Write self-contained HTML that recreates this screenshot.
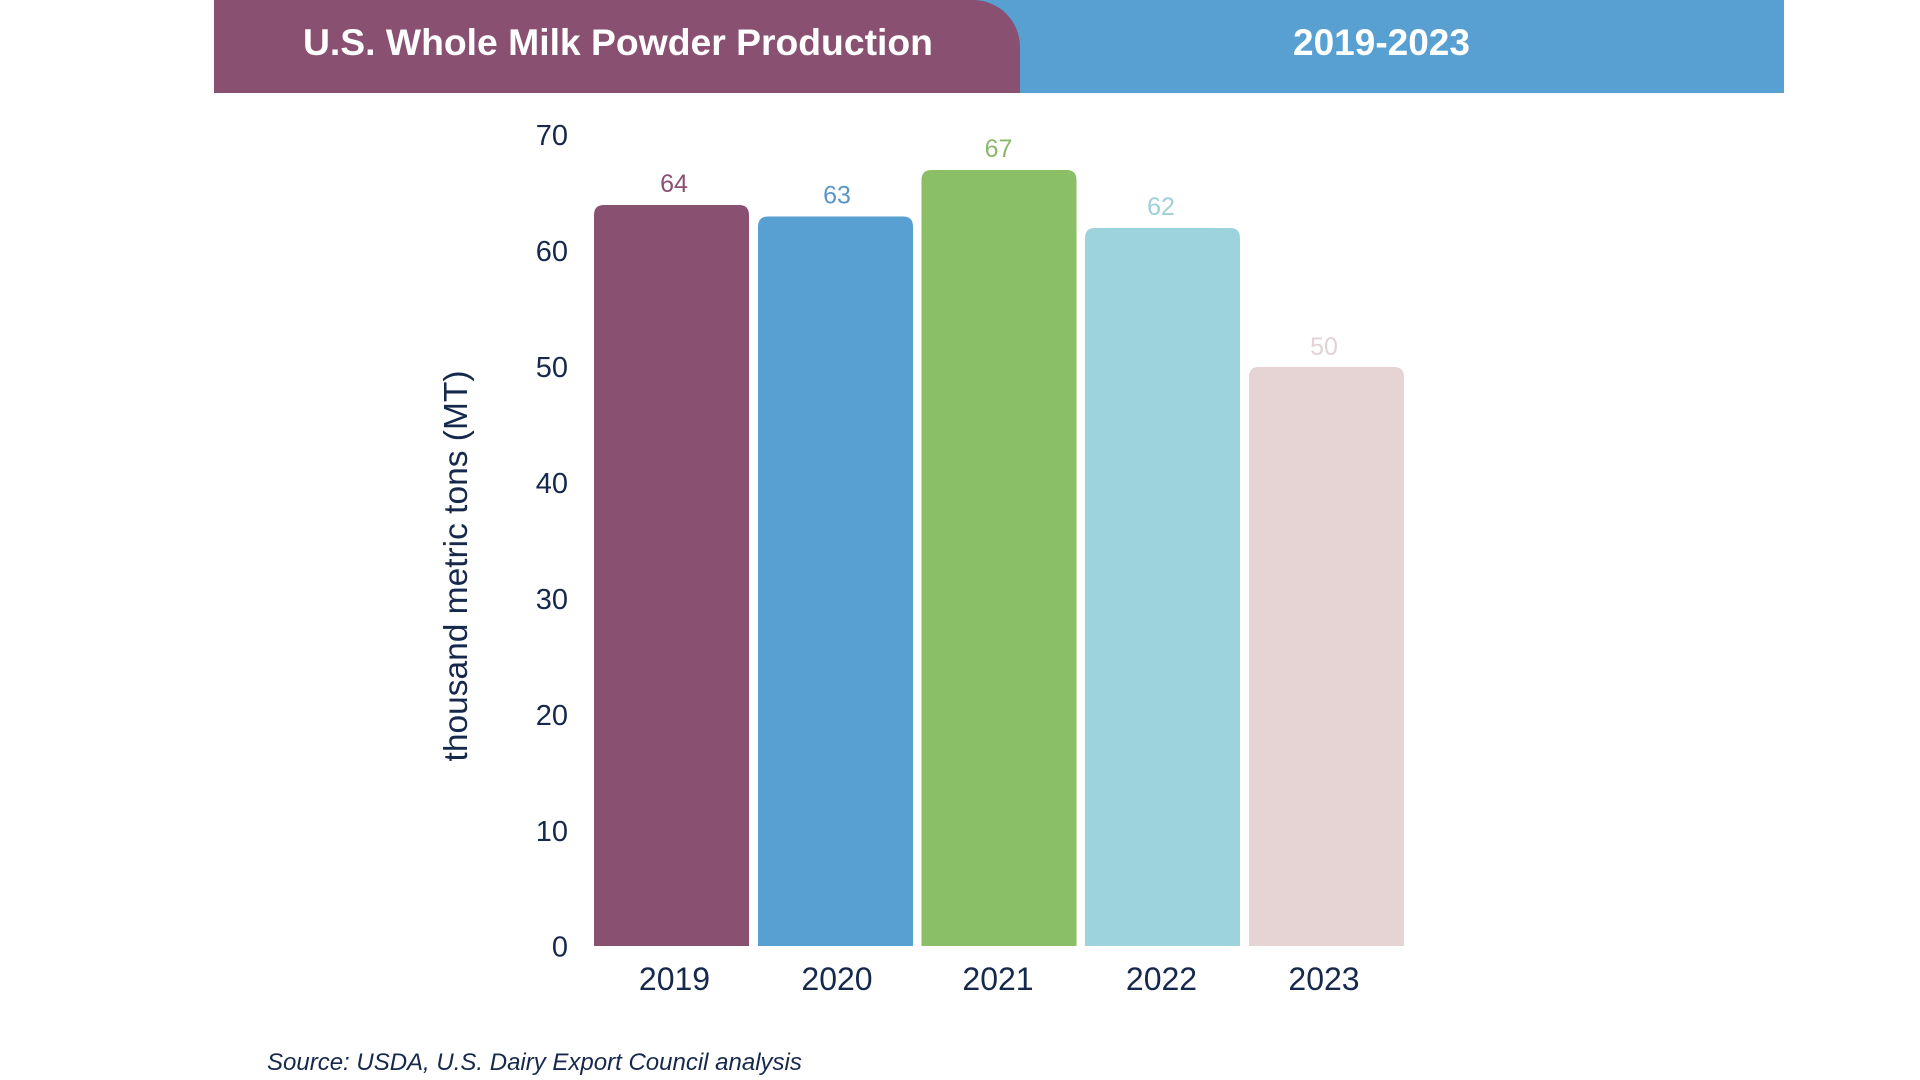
<!DOCTYPE html>
<html>
<head>
<meta charset="utf-8">
<style>
  html, body { margin: 0; padding: 0; background: #ffffff; }
  body { width: 1920px; height: 1080px; overflow: hidden; }
  svg { display: block; }
  text { font-family: "Liberation Sans", Arial, sans-serif; }
</style>
</head>
<body>
<svg width="1920" height="1080" viewBox="0 0 1920 1080" xmlns="http://www.w3.org/2000/svg">
  <rect x="0" y="0" width="1920" height="1080" fill="#ffffff"/>

  <!-- Header -->
  <rect x="960" y="0" width="824" height="93" fill="#589fd2"/>
  <path d="M214,0 H973 A47,47 0 0 1 1020,47 V93 H214 Z" fill="#8a5072"/>
  <text x="303" y="55" font-size="37.3" font-weight="bold" fill="#ffffff">U.S. Whole Milk Powder Production</text>
  <text x="1381.5" y="55" font-size="37" font-weight="bold" fill="#ffffff" text-anchor="middle">2019-2023</text>

  <!-- Y tick labels -->
  <g font-size="29" fill="#16294d" text-anchor="end">
    <text x="568" y="145">70</text>
    <text x="568" y="261">60</text>
    <text x="568" y="377">50</text>
    <text x="568" y="493">40</text>
    <text x="568" y="609">30</text>
    <text x="568" y="725">20</text>
    <text x="568" y="841">10</text>
    <text x="568" y="956.5">0</text>
  </g>

  <!-- Y axis title -->
  <text transform="translate(467,566) rotate(-90)" font-size="33.5" fill="#16294d" text-anchor="middle">thousand metric tons (MT)</text>

  <!-- Bars -->
  <path d="M594,946 V215 Q594,205 604,205 H739 Q749,205 749,215 V946 Z" fill="#8a5072"/>
  <path d="M758,946 V226.5 Q758,216.5 768,216.5 H903 Q913,216.5 913,226.5 V946 Z" fill="#589fd2"/>
  <path d="M921.5,946 V180 Q921.5,170 931.5,170 H1066.5 Q1076.5,170 1076.5,180 V946 Z" fill="#8bbf67"/>
  <path d="M1085,946 V238 Q1085,228 1095,228 H1230 Q1240,228 1240,238 V946 Z" fill="#9dd3dd"/>
  <path d="M1249,946 V377 Q1249,367 1259,367 H1394 Q1404,367 1404,377 V946 Z" fill="#e6d3d3"/>

  <!-- Value labels -->
  <g font-size="25" text-anchor="middle">
    <text x="674" y="192" fill="#8a5072">64</text>
    <text x="837" y="203.5" fill="#5b96c9">63</text>
    <text x="998.5" y="157" fill="#8ab86a">67</text>
    <text x="1161" y="215" fill="#9fcfd9">62</text>
    <text x="1324" y="355" fill="#e3d2d5">50</text>
  </g>

  <!-- X labels -->
  <g font-size="32" fill="#16294d" text-anchor="middle">
    <text x="674.5" y="990">2019</text>
    <text x="837" y="990">2020</text>
    <text x="998" y="990">2021</text>
    <text x="1161.5" y="990">2022</text>
    <text x="1324" y="990">2023</text>
  </g>

  <!-- Source -->
  <text x="267" y="1070" font-size="24" font-style="italic" fill="#16294d">Source: USDA, U.S. Dairy Export Council analysis</text>
</svg>
</body>
</html>
